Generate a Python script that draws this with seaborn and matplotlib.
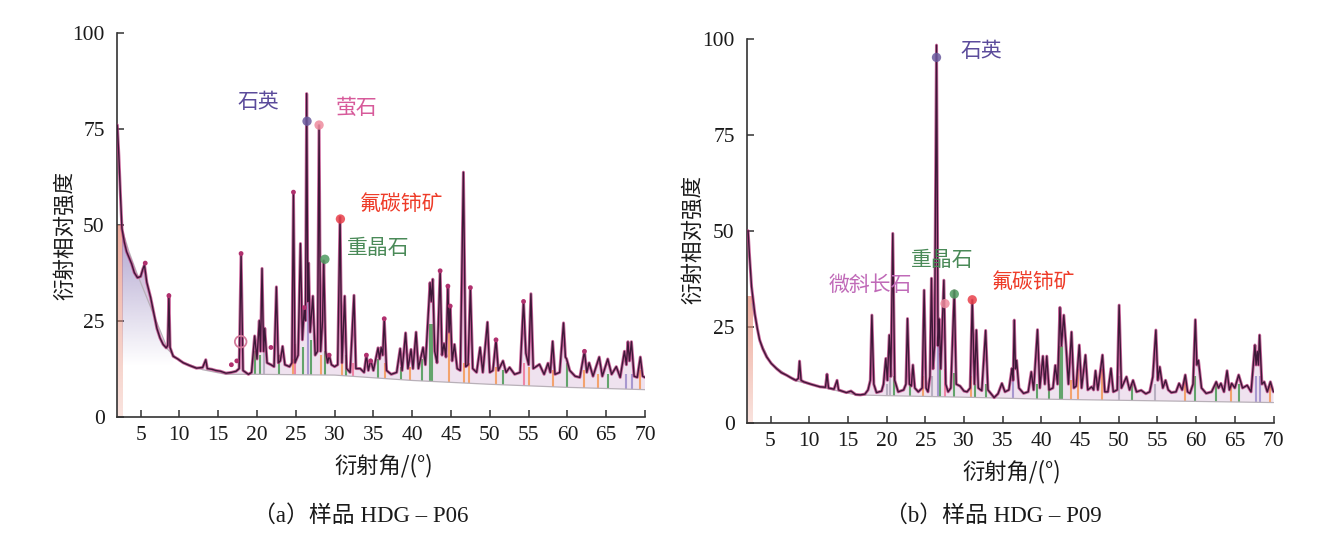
import numpy as np
import pandas as pd
import matplotlib
matplotlib.use("Agg")
import matplotlib.pyplot as plt
import seaborn as sns
from matplotlib.colors import to_rgb

# ---------------- data ----------------
# Panel (a) sample HDG-P06 : diffraction curve vertices
a_x = [2.0, 2.2, 2.4, 2.6, 2.9, 3.2, 3.5, 3.85, 4.2, 4.6, 5.0, 5.3, 5.5, 5.8, 6.3, 6.7, 7.1, 7.5, 7.9, 8.3,
       8.5, 8.65, 8.8, 9.2, 9.8, 10.5, 11.3, 12.2, 13.0, 13.4, 13.6, 14.2, 14.7, 15.3, 16.0, 16.7, 17.3, 17.7,
       17.95, 18.2, 18.9, 19.3, 19.7, 20.0, 20.3, 20.45, 20.65, 20.85, 21.0, 21.3, 21.8, 22.2, 22.5, 22.75,
       23.0, 23.3, 23.6, 24.2, 24.5, 24.7, 24.9, 25.3, 25.6, 25.85, 26.1, 26.25, 26.4, 26.55, 26.65, 26.85,
       27.2, 27.5, 27.8, 28.0, 28.2, 28.45, 28.6, 28.85, 29.1, 29.3, 29.6, 30.0, 30.4, 30.7, 30.95, 31.3,
       31.55, 32.0, 32.5, 32.75, 33.3, 33.8, 34.1, 34.35, 34.65, 35.0, 35.6, 35.8, 36.0, 36.2, 36.4, 36.7,
       37.3, 38.0, 38.45, 38.7, 39.15, 39.45, 39.85, 40.1, 40.5, 40.8, 41.4, 41.7, 42.1, 42.3, 42.45, 42.65,
       42.9, 43.2, 43.6, 43.85, 44.1, 44.35, 44.6, 44.75, 44.9, 45.15, 45.45, 45.8, 46.2, 46.6, 46.9, 47.2,
       47.5, 47.8, 48.3, 48.75, 49.1, 49.7, 50.0, 50.4, 50.8, 51.1, 51.7, 52.1, 52.55, 53.2, 53.9, 54.35,
       54.65, 55.0, 55.3, 55.6, 56.4, 57.0, 57.5, 57.8, 58.1, 58.4, 59.0, 59.5, 59.75, 59.9, 60.3, 61.0,
       61.6, 62.2, 62.5, 62.8, 63.3, 64.1, 64.5, 65.2, 65.7, 66.3, 66.8, 67.35, 67.6, 67.8, 68.0, 68.25,
       68.6, 69.0, 69.4, 69.7, 70.0]
a_y = [76, 68, 58, 49, 45.5, 43, 41.5, 39.8, 37.5, 36.2, 36.5, 38.5, 39.5, 35, 31, 27, 23, 20.5, 18.8, 17.9,
       18.5, 31.8, 18, 15.7, 15, 14, 13.3, 12.6, 12.8, 14.8, 12.5, 12.3, 12.0, 11.8, 11.3, 11.5, 11.8, 12.5,
       42.3, 12, 11, 11.5, 21, 15, 25, 17, 38.6, 17, 23, 14, 13.5, 13, 33.8, 14,
       14.5, 18.3, 13.5, 13, 14, 58.5, 14, 16, 45.1, 20, 28.4, 25, 84.2, 30, 40, 22,
       31.4, 16, 17, 75.9, 17, 25, 40.6, 17, 14, 16, 13.5, 13, 13.5, 52, 14, 31.4,
       12.5, 11.5, 31.6, 12.5, 12.5, 11.5, 16, 12, 14.7, 12, 17.9, 15, 18, 16, 25.5, 12,
       11, 11.5, 17.7, 12, 21.8, 12.5, 17.5, 12.5, 22, 12.5, 18, 13.5, 27.5, 34.9, 30, 35.8,
       17, 14, 38, 16, 19, 15.5, 34, 22, 28.8, 14.5, 18.8, 12.5, 12, 63.7, 13, 13.5,
       33.6, 12.5, 11.5, 18, 11.5, 24.6, 11.5, 12, 20, 12, 14.5, 11.5, 12.8, 11, 11.5, 30.1,
       16.5, 13.5, 32, 12.5, 13.6, 11, 13.9, 11.5, 19.6, 11, 11.5, 24.4, 15.5, 15, 12, 10.5,
       10.2, 17, 11.5, 14, 10.5, 15.5, 10.5, 15, 11, 13, 10.2, 17, 13.5, 19.5, 14.5, 19.5,
       10.5, 10.2, 15.5, 10.5, 10.2]
# background (lower envelope) of (a)
a_base_x = [2.6, 3.5, 4.5, 6.5, 8.5, 10.0, 13.0, 16.0, 20.0, 30.0, 40.0, 50.0, 60.0, 70.0]
a_base_y = [49, 43, 37.5, 27.5, 17.5, 14.5, 12.2, 11.0, 11.0, 10.8, 9.4, 8.4, 7.6, 7.0]
# reference sticks of (a): position, top, phase
a_stick_x = [19.8, 20.4, 20.9, 22.8, 24.6, 24.9, 25.9, 26.6, 26.9, 28.3, 28.8, 30.9, 31.5, 32.4, 35.6, 36.5,
             38.6, 39.7, 41.3, 42.3, 42.6, 44.7, 46.7, 47.3, 50.8, 51.7, 54.4, 55.0, 58.2, 59.9, 62.2, 64.0,
             65.2, 67.6, 68.3, 69.3]
a_stick_top = [17, 16, 19, 16, 15, 19, 18, 30, 20, 16, 17, 16, 16, 14, 15, 14,
               13, 13, 15, 24, 24, 22, 14, 14, 13, 12, 14, 13, 12, 14, 12, 11,
               11, 11, 11, 12]
a_stick_phase = ["重晶石", "重晶石", "微斜长石", "重晶石", "氟碳铈矿", "萤石", "重晶石", "石英", "重晶石", "氟碳铈矿",
                 "重晶石", "氟碳铈矿", "重晶石", "萤石", "重晶石", "氟碳铈矿", "重晶石", "氟碳铈矿", "重晶石", "重晶石",
                 "重晶石", "氟碳铈矿", "氟碳铈矿", "氟碳铈矿", "氟碳铈矿", "重晶石", "萤石", "氟碳铈矿", "氟碳铈矿", "重晶石",
                 "氟碳铈矿", "氟碳铈矿", "重晶石", "石英", "石英", "氟碳铈矿"]
# phase markers of (a)
a_mark_x = [26.45, 28.0, 30.75, 28.75]
a_mark_y = [77, 76, 51.5, 41]
a_mark_phase = ["石英", "萤石", "氟碳铈矿", "重晶石"]
a_dot_x = [5.6, 8.65, 16.7, 17.4, 17.95, 21.8, 24.7, 26.1, 29.3, 34.1, 34.65, 36.4, 43.6, 44.6, 44.9, 47.5,
           50.8, 54.35, 62.2]
a_dot_y = [40, 31.5, 13.5, 14.5, 42.5, 18, 58.5, 28.4, 16, 16, 14.5, 25.5, 38, 34, 28.8, 33.6,
           20, 30, 17]
a_ring = (17.9, 19.5)
a_bar_top = 50
a_labels = ["石英", "萤石", "氟碳铈矿", "重晶石"]
a_label_x = [20.2, 32.8, 38.6, 35.6]
a_label_y = [82.0, 80.4, 55.5, 44.0]

# Panel (b) sample HDG-P09
b_x = [2.1, 2.3, 2.55, 2.97, 3.3, 3.6, 4.0, 4.5, 5.1, 5.8, 6.4, 7.1, 7.7, 8.3, 8.6, 8.75, 8.95, 9.3, 10.2,
       11.4, 12.1, 12.3, 12.5, 13.2, 13.6, 13.8, 14.8, 15.4, 16.0, 16.6, 17.2, 17.6, 17.9, 18.1, 18.35, 18.7,
       19.35, 19.6, 19.9, 20.1, 20.35, 20.55, 20.8, 21.05, 21.5, 22.2, 22.5, 22.7, 22.95, 23.2, 23.4, 23.65,
       24.1, 24.6, 24.85, 25.1, 25.35, 25.6, 25.8, 26.0, 26.2, 26.45, 26.65, 26.8, 27.0, 27.4, 27.65, 27.95,
       28.3, 28.75, 29.0, 29.5, 30.0, 30.4, 30.8, 31.07, 31.35, 31.6, 31.85, 32.3, 32.8, 33.1, 33.9, 34.4,
       34.9, 35.3, 35.8, 36.2, 36.35, 36.5, 36.65, 36.8, 37.1, 37.7, 38.3, 38.7, 39.0, 39.5, 39.8, 40.2,
       40.45, 40.7, 41.0, 41.5, 41.8, 42.1, 42.4, 42.6, 42.9, 43.2, 43.5, 43.9, 44.2, 44.5, 44.9, 45.2,
       45.7, 46.0, 46.5, 46.75, 47.0, 47.3, 47.9, 48.2, 48.6, 49.0, 49.3, 49.8, 50.05, 50.35, 51.0, 51.4,
       51.85, 52.3, 52.9, 53.5, 54.0, 54.4, 54.8, 55.05, 55.3, 55.7, 56.05, 56.4, 56.8, 57.4, 57.8, 58.2,
       58.6, 58.9, 59.2, 59.6, 59.9, 60.1, 60.3, 60.7, 61.3, 62.0, 62.6, 62.9, 63.2, 63.6, 64.0, 64.3,
       64.6, 65.0, 65.5, 66.0, 66.6, 67.1, 67.6, 67.75, 67.9, 68.05, 68.2, 68.5, 68.8, 69.2, 69.6, 69.9, 70.0]
b_y = [50, 43, 35.4, 28.4, 24.5, 21.5, 19.2, 17.1, 15.4, 14, 13, 12.3, 11.6, 11, 11.5, 16, 11, 10.6, 10.0,
       9.3, 9.2, 12.6, 9, 8.7, 11, 8.5, 7.8, 8.2, 7.3, 7.2, 7.4, 8.5, 11, 28, 10, 7.8,
       8.2, 10, 16.7, 11, 22.8, 12, 49.3, 11, 8, 8.5, 10, 27.1, 10, 9.5, 15, 9,
       8, 9, 34.5, 9, 8, 12, 37.6, 14, 20, 98.4, 20, 27, 14, 37.1, 10, 8,
       9, 34.3, 10, 9.5, 8.2, 8, 9, 31.9, 10, 24.1, 9, 8.3, 24, 8.5, 6.5, 7.5,
       10.2, 8, 8.5, 14.1, 11, 26.7, 14, 16.2, 9, 7.6, 8, 13.2, 8.5, 24.2, 9, 17.3,
       10, 17.3, 8.5, 9, 14.9, 10, 30, 20, 28, 19.7, 10, 23.6, 9, 9.5, 20.2, 9,
       17.6, 8.5, 9.3, 8.5, 13.5, 8.5, 17.6, 8, 8, 14.1, 8, 8.5, 30.6, 9, 11.9, 8.5,
       11, 8, 8.4, 7.5, 8, 11.9, 24.1, 11, 14.5, 9, 11, 8.5, 7.8, 8, 10.2, 8.5,
       12.4, 8, 7.6, 10, 26.8, 15, 16.2, 9, 7.6, 8, 10.6, 9, 10.2, 8, 13.5, 8.5,
       10.2, 9, 12.4, 9, 9.7, 8, 20.2, 15, 18.5, 15, 22.8, 10, 10.6, 8, 10.6, 8.5, 8]
b_base_x = [2.6, 3.5, 5.0, 8.0, 12.0, 16.0, 20.0, 30.0, 40.0, 50.0, 60.0, 70.0]
b_base_y = [31, 22, 15.5, 11, 9, 7.2, 7.0, 6.6, 6.1, 5.8, 5.5, 5.2]
b_stick_x = [20.1, 20.5, 21.0, 23.0, 24.7, 25.9, 26.6, 26.9, 27.5, 28.7, 30.9, 31.4, 32.9, 36.4, 39.4, 41.0,
             42.4, 42.7, 43.8, 44.8, 47.9, 50.0, 51.7, 54.7, 58.5, 59.9, 62.6, 64.5, 65.5, 67.7, 68.2, 69.6]
b_stick_top = [10, 12, 12, 10, 12, 12, 26, 18, 14, 13, 12, 10, 10, 12, 10, 10,
               20, 20, 11, 14, 14, 12, 10, 10, 11, 12, 10, 10, 10, 12, 12, 10]
b_stick_phase = ["微斜长石", "微斜长石", "重晶石", "重晶石", "氟碳铈矿", "微斜长石", "石英", "重晶石", "萤石", "重晶石",
                 "氟碳铈矿", "重晶石", "重晶石", "石英", "重晶石", "重晶石", "重晶石", "重晶石", "氟碳铈矿", "氟碳铈矿",
                 "氟碳铈矿", "微斜长石", "重晶石", "微斜长石", "氟碳铈矿", "重晶石", "重晶石", "氟碳铈矿", "重晶石", "石英",
                 "石英", "氟碳铈矿"]
b_mark_x = [26.45, 28.75, 27.55, 31.07]
b_mark_y = [95.2, 33.5, 31.0, 32.0]
b_mark_phase = ["石英", "重晶石", "萤石", "氟碳铈矿"]
b_bar_top = 33
b_labels = ["石英", "微斜长石", "重晶石", "氟碳铈矿"]
b_label_x = [32.3, 17.9, 27.2, 39.0]
b_label_y = [97.0, 35.8, 42.3, 36.6]

x_ticks = list(range(5, 75, 5))
y_ticks = [0, 25, 50, 75, 100]
captions = ["（a）样品 HDG – P06", "（b）样品 HDG – P09"]
x_title = "衍射角/(°)"
y_title = "衍射相对强度"

# ---------------- styling ----------------
sns.set_theme(style="ticks")
plt.rcParams["font.family"] = ["Liberation Serif", "Noto Sans CJK SC", "DejaVu Sans"]
CJK = ["Noto Sans CJK SC", "DejaVu Sans"]
MIX = ["Liberation Serif", "Noto Sans CJK SC", "DejaVu Sans"]

stick_col = {"重晶石": "#63a46c", "氟碳铈矿": "#f3a36e", "萤石": "#ef86a6", "石英": "#a898d0", "微斜长石": "#b9b0c2"}
mark_col = {"重晶石": "#4f9a60", "氟碳铈矿": "#e8404a", "萤石": "#ee8c9e", "石英": "#6a5a9e"}
label_col = {"石英": "#5b4b9b", "萤石": "#d75a9a", "氟碳铈矿": "#ee3b28", "重晶石": "#4a8a58", "微斜长石": "#c06ab8"}

W, H = 1327, 535
fig = plt.figure(figsize=(W / 100, H / 100), dpi=100)
ax_a = fig.add_axes([117.3 / W, 1 - 416.5 / H, (645 - 117.3) / W, (416.5 - 33) / H])
ax_b = fig.add_axes([747.3 / W, 1 - 422.5 / H, (1273.5 - 747.3) / W, (422.5 - 39) / H])


def vgrad(ax, x0, x1, y0, y1, color, a_lo, a_hi, clip=None, z=1):
    n = 256
    rgba = np.zeros((n, 2, 4))
    rgba[..., :3] = to_rgb(color)
    rgba[..., 3] = np.clip(np.linspace(a_lo, a_hi, n), 0, 1)[:, None]
    im = ax.imshow(rgba, extent=[x0, x1, y0, y1], origin="lower", aspect="auto",
                   interpolation="bilinear", zorder=z)
    if clip is not None:
        im.set_clip_path(clip.get_paths()[0], transform=ax.transData)
    return im


def panel(ax, cx, cy, bx, by, sx, st, sp, mx, my, mp, bar_top, labels, lx, ly, grad_end, grad_alpha):
    cx = np.asarray(cx, float); cy = np.asarray(cy, float)
    bx = np.asarray(bx, float); by = np.asarray(by, float)
    # pink bar at the very low angle
    bar = ax.fill_between([2.0, 2.7], [bar_top, bar_top], 0, facecolor="none", edgecolor="none")
    vgrad(ax, 2.0, 2.7, 0, bar_top, "#e9907c", 0.25, 0.75, clip=bar, z=1)
    # lavender gradient under the low-angle background hump
    m = (cx >= 2.6) & (cx <= grad_end)
    hump = ax.fill_between(cx[m], cy[m], 0, facecolor="none", edgecolor="none")
    vgrad(ax, 2.6, grad_end, 0, 50, "#8a78b8", -0.25, grad_alpha, clip=hump, z=1)
    # light fill between pattern and background
    m2 = cx >= 2.6
    px = np.r_[cx[m2], bx[::-1]]
    py = np.r_[cy[m2], by[::-1]]
    ax.fill(px, py, facecolor="#dcc0dc", alpha=0.45, edgecolor="none", zorder=2)
    # reference sticks
    sb = np.interp(sx, bx, by)
    ax.vlines(sx, sb, st, colors=[stick_col[p] for p in sp], lw=1.5, zorder=3)
    # background line
    sns.lineplot(x=bx, y=by, ax=ax, color="#b8b0b8", lw=0.9, sort=False, estimator=None, zorder=3)
    # pattern: magenta halo + dark core
    df = pd.DataFrame({"x": cx, "y": cy})
    sns.lineplot(data=df, x="x", y="y", ax=ax, color="#b8367c", lw=2.2, alpha=0.75,
                 sort=False, estimator=None, zorder=4)
    sns.lineplot(data=df, x="x", y="y", ax=ax, color="#3e1838", lw=1.0,
                 sort=False, estimator=None, zorder=5)
    # phase markers
    sns.scatterplot(x=mx, y=my, hue=mp, palette=mark_col, ax=ax, s=45, alpha=0.85,
                    edgecolor="none", legend=False, zorder=6)
    for t, x, y in zip(labels, lx, ly):
        ax.text(x, y, t, color=label_col[t], fontsize=15, family=CJK,
                ha="center", va="center", zorder=7)
    ax.set_xlim(2, 70)
    ax.set_ylim(0, 100)
    ax.set_xticks(x_ticks)
    ax.set_yticks(y_ticks)
    ax.set_xlabel("")
    ax.set_ylabel("")
    ax.tick_params(direction="in", length=5, width=1.1, colors="#333333", labelsize=15.5,
                   labelcolor="#1a1a1a")
    ax.tick_params(axis="x", pad=7)
    ax.tick_params(axis="y", pad=9)
    for lab in ax.get_xticklabels() + ax.get_yticklabels():
        lab.set_family(MIX)
    for s in ["top", "right"]:
        ax.spines[s].set_visible(False)
    for s in ["left", "bottom"]:
        ax.spines[s].set_color("#333333")
        ax.spines[s].set_linewidth(1.2)
    ax.set_facecolor("white")


panel(ax_a, a_x, a_y, a_base_x, a_base_y, a_stick_x, a_stick_top, a_stick_phase,
      a_mark_x, a_mark_y, a_mark_phase, a_bar_top, a_labels, a_label_x, a_label_y, 9.5, 0.7)
sns.scatterplot(x=a_dot_x, y=a_dot_y, ax=ax_a, color="#b0306e", s=12, edgecolor="none",
                legend=False, zorder=6)
ax_a.scatter([a_ring[0]], [a_ring[1]], s=70, facecolors="none", edgecolors="#d27a9a", linewidths=1.3, zorder=6)

panel(ax_b, b_x, b_y, b_base_x, b_base_y, b_stick_x, b_stick_top, b_stick_phase,
      b_mark_x, b_mark_y, b_mark_phase, b_bar_top, b_labels, b_label_x, b_label_y, 6.5, 0.25)

# axis titles and captions
fig.text(65 / W, 1 - 236 / H, y_title, rotation=90, ha="center", va="center", fontsize=15.5,
         family=CJK, color="#1a1a1a")
fig.text(693 / W, 1 - 240 / H, y_title, rotation=90, ha="center", va="center", fontsize=15.5,
         family=CJK, color="#1a1a1a")
fig.text(384 / W, 1 - 466 / H, x_title, ha="center", va="center", fontsize=16, family=CJK, color="#1a1a1a")
fig.text(1012 / W, 1 - 472 / H, x_title, ha="center", va="center", fontsize=16, family=CJK, color="#1a1a1a")
fig.text(361 / W, 1 - 516 / H, captions[0], ha="center", va="center", fontsize=16.5, family=MIX, color="#1a1a1a")
fig.text(993 / W, 1 - 516 / H, captions[1], ha="center", va="center", fontsize=16.5, family=MIX, color="#1a1a1a")

fig.savefig("out.png", dpi=100, facecolor="white")
